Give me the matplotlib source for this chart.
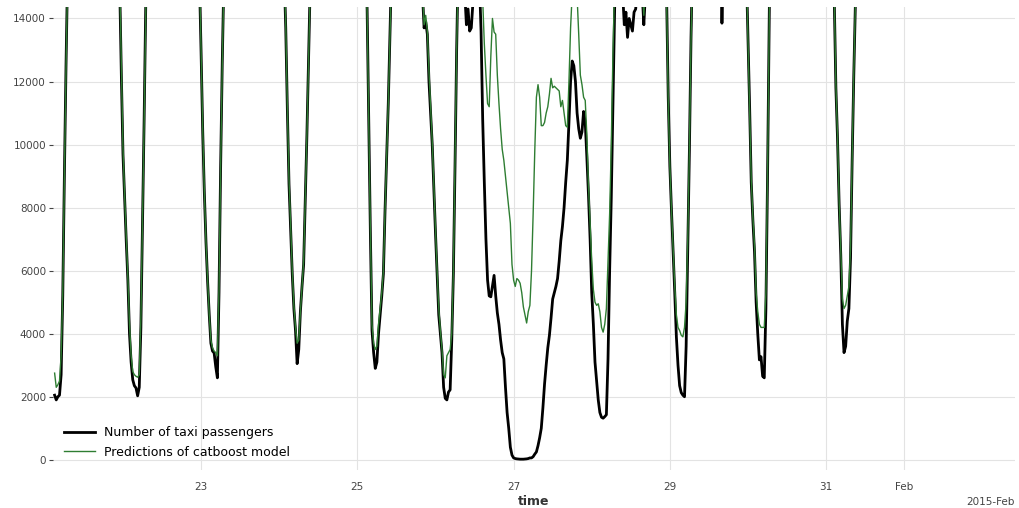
import pandas as pd
import matplotlib
matplotlib.use("Agg")
import matplotlib.pyplot as plt
import matplotlib.dates as mdates

# half-hourly values, series starts 2015-01-21 03:00
passengers_jan21 = [2050, 1900, 2000, 2050, 2700, 5200, 9000, 12500, 15500, 18000,
                    20500, 21800, 21500, 20600, 19800, 19600, 20100, 20700, 21300, 21600,
                    21200, 21000, 21400, 21700, 21100, 20200, 18800, 17600, 19400, 23100,
                    26200, 28400, 29300, 28600, 27100, 26000, 25200, 24300, 22100, 18600,
                    15000, 12200]
passengers_jan22 = [9700, 8300, 6950, 5700, 4000, 3100, 2540, 2350, 2280, 2030,
                    2300, 4200, 7400, 10800, 14500, 17200, 20200, 21600, 21700, 20800,
                    19900, 19700, 20300, 20900, 21400, 21700, 21300, 21200, 21600, 21900,
                    21300, 20400, 18900, 17800, 19600, 23400, 26600, 28900, 29800, 29100,
                    27800, 26700, 26000, 25300, 24200, 22500, 20100, 15200]
passengers_jan23 = [12900, 10400, 8450, 6900, 5650, 4600, 3700, 3450, 3390, 2950,
                    2600, 5300, 9300, 12600, 15300, 17800, 19900, 21200, 21300, 20400,
                    19600, 19500, 20000, 20700, 21200, 21500, 21200, 21100, 21600, 22000,
                    21600, 20800, 19200, 18000, 19800, 23600, 27000, 29500, 30600, 30200,
                    29000, 28100, 27800, 28300, 28600, 28400, 27600, 26900]
passengers_jan24 = [25800, 23100, 19800, 15500, 13700, 11100, 8750, 7300, 5900, 4800,
                    4100, 3050, 3500, 4700, 5500, 6200, 8300, 10300, 12700, 15000,
                    16800, 18400, 19800, 21000, 22000, 22800, 23400, 23900, 24200, 24100,
                    23800, 23300, 22200, 21400, 22600, 24300, 25900, 27100, 27900, 28100,
                    27700, 27000, 26900, 27300, 28100, 28600, 28500, 28000]
passengers_jan25 = [27200, 26300, 25100, 23400, 20900, 15800, 14300, 10700, 7200, 4100,
                    3400, 2900, 3100, 4000, 4600, 5200, 5900, 7900, 9600, 11300,
                    13500, 15500, 17200, 18400, 19300, 20000, 20500, 20800, 20900, 20700,
                    20300, 19800, 18600, 17600, 18000, 18600, 19000, 18900, 18200, 16500,
                    14800, 13700, 13900, 13500, 12000, 11000, 10000, 8600]
passengers_jan26 = [7200, 5900, 4600, 4000, 3400, 2300, 1950, 1900, 2150, 2220,
                    3800, 5900, 9300, 13000, 15800, 17000, 16500, 15500, 14800, 13800,
                    14300, 13600, 13700, 14500, 15000, 15500, 15800, 15200, 13600, 10800,
                    8800, 7000, 5700, 5200, 5170, 5500, 5850, 5200, 4660, 4300,
                    3800, 3400, 3200, 2300, 1500, 1000, 400, 150]
passengers_jan27 = [60, 40, 30, 25, 20, 20, 20, 25, 30, 40,
                    60, 60, 100, 180, 250, 450, 700, 1000, 1650, 2400,
                    3000, 3550, 3950, 4500, 5100, 5300, 5500, 5750, 6300, 6950,
                    7400, 8000, 8800, 9500, 10700, 12000, 12650, 12500, 12000, 11000,
                    10500, 10200, 10400, 11050, 10700, 9600, 8400, 7000]
passengers_jan28 = [5300, 4300, 3100, 2500, 1900, 1500, 1350, 1320, 1370, 1430,
                    3200, 6000, 8300, 11200, 14200, 16500, 17000, 16500, 15500, 14800,
                    13800, 14200, 13400, 14000, 13800, 13600, 14200, 14300, 15000, 15500,
                    15200, 14800, 13800, 14800, 16000, 19500, 22800, 25300, 26800, 26600,
                    25400, 24500, 23800, 21000, 18500, 15800, 14700, 11500]
passengers_jan29 = [9300, 7900, 6600, 5300, 3900, 3000, 2350, 2130, 2050, 2000,
                    3600, 6600, 9800, 13400, 16000, 18500, 20400, 21500, 21400, 20600,
                    19800, 19700, 20300, 20800, 21300, 21600, 21300, 21000, 21400, 21200,
                    19500, 16800, 13850, 16000, 19500, 23300, 26500, 28700, 29500, 29000,
                    27900, 26800, 26100, 25500, 24800, 22900, 19500, 15500]
passengers_jan30 = [13400, 11200, 8800, 7600, 6600, 5000, 4000, 3170, 3270, 2650,
                    2600, 4800, 8900, 14000, 17500, 19500, 20800, 21700, 21500, 20600,
                    19800, 19700, 20300, 20900, 21500, 21800, 21400, 21300, 21800, 22100,
                    21700, 20900, 19300, 18100, 19900, 23800, 27200, 29800, 31000, 30600,
                    29400, 28500, 28200, 28600, 29000, 28900, 28100, 27400]
passengers_jan31 = [26300, 24800, 22500, 19600, 16000, 14600, 11800, 10200, 8100, 6500,
                    4300, 3400, 3600, 4400, 4800, 6400, 9500, 12200, 14500, 17000]

catboost_jan21 = [2750, 2300, 2380, 2500, 3300, 5300, 9000, 12400, 15300, 17700,
                  20100, 21400, 21600, 20900, 20100, 19800, 20000, 20500, 21000, 21400,
                  21400, 21200, 21300, 21500, 21300, 20500, 19300, 18200, 19200, 22400,
                  25700, 27900, 29000, 28700, 27500, 26300, 25500, 24600, 22500, 19000,
                  15200, 12500]
catboost_jan22 = [9900, 8400, 7100, 5800, 4300, 3300, 2800, 2700, 2650, 2620,
                  2700, 4500, 7500, 10700, 14300, 17000, 19900, 21300, 21600, 21000,
                  20200, 19900, 20200, 20700, 21200, 21500, 21400, 21300, 21500, 21700,
                  21400, 20600, 19300, 18300, 19500, 22800, 26000, 28400, 29500, 29200,
                  28100, 27000, 26200, 25400, 24300, 22700, 20300, 15400]
catboost_jan23 = [13000, 10500, 8500, 6900, 5700, 4600, 3800, 3550, 3450, 3400,
                  3300, 5400, 9300, 12500, 15200, 17600, 19700, 21000, 21300, 20600,
                  19900, 19700, 20000, 20500, 21000, 21300, 21300, 21200, 21500, 21800,
                  21600, 21000, 19600, 18500, 19700, 23000, 26400, 28900, 30100, 30000,
                  29100, 28300, 27900, 28100, 28400, 28300, 27700, 26900]
catboost_jan24 = [25900, 23300, 20000, 15700, 13800, 11200, 8900, 7400, 6000, 4900,
                  4200, 3700, 3800, 4700, 5500, 6300, 8300, 10300, 12600, 14900,
                  16700, 18300, 19700, 20800, 21800, 22600, 23200, 23700, 24000, 24000,
                  23700, 23200, 22400, 21800, 22700, 24100, 25600, 26800, 27600, 27900,
                  27600, 27000, 26800, 27100, 27800, 28300, 28300, 27800]
catboost_jan25 = [27100, 26200, 25000, 23200, 20700, 15900, 14200, 10800, 7300, 4300,
                  3700, 3500, 3600, 4300, 4800, 5300, 6000, 7900, 9600, 11300,
                  13400, 15400, 17000, 18300, 19200, 19900, 20400, 20700, 20800, 20600,
                  20200, 19700, 18700, 17900, 18100, 18600, 19000, 19000, 18400, 17000,
                  14900, 13800, 14100, 13600, 12300, 11200, 10100, 8700]
catboost_jan26 = [7300, 6000, 4800, 4100, 3500, 2700, 2600, 3300, 3400, 3500,
                  4000, 6000, 9400, 13000, 15600, 17000, 17300, 16800, 16200, 15900,
                  16100, 16200, 16400, 16600, 16800, 16700, 16300, 15500, 15000, 14600,
                  13200, 12200, 11300, 11200, 12800, 14000, 13570, 13500, 12200, 11300,
                  10500, 9850, 9500, 9000, 8500, 8000, 7500, 6200]
catboost_jan27 = [5700, 5500, 5750, 5700, 5600, 5300, 4850, 4600, 4340, 4700,
                  4900, 6000, 7800, 9800, 11500, 11900, 11500, 10600, 10600, 10700,
                  11000, 11200, 11600, 12100, 11800, 11850, 11800, 11750, 11700, 11200,
                  11400, 11000, 10600, 10550, 12000, 13700, 14800, 16000, 16200, 14700,
                  13500, 12200, 11900, 11500, 11400, 10300, 8700, 7500]
catboost_jan28 = [6300, 5400, 5000, 4900, 4950, 4700, 4200, 4050, 4300, 4800,
                  6300, 7800, 10000, 12800, 15000, 17000, 17800, 17600, 17000, 16500,
                  16200, 16000, 15800, 15700, 15500, 15400, 15500, 15600, 15800, 15900,
                  15600, 15000, 14100, 15200, 17000, 20300, 23500, 25600, 26800, 26700,
                  25700, 24800, 24000, 21300, 18700, 15900, 14600, 11400]
catboost_jan29 = [9300, 7900, 6700, 5500, 4600, 4200, 4100, 3950, 3900, 4200,
                  5000, 7000, 9900, 13300, 15800, 18200, 20100, 21200, 21300, 20800,
                  20100, 19900, 20200, 20600, 21100, 21400, 21300, 21100, 21300, 21300,
                  20300, 18900, 17800, 18600, 20400, 23300, 26200, 28300, 29300, 29100,
                  28100, 27000, 26300, 25600, 24800, 23000, 19700, 15700]
catboost_jan30 = [13300, 11100, 8900, 7700, 6800, 5300, 4700, 4300, 4200, 4200,
                  4200, 5300, 9000, 13900, 17300, 19300, 20600, 21500, 21500, 20800,
                  20100, 19900, 20200, 20700, 21200, 21600, 21500, 21400, 21700, 21900,
                  21700, 21100, 19800, 18700, 19900, 23300, 26700, 29300, 30500, 30400,
                  29500, 28700, 28300, 28500, 28800, 28700, 28100, 27500]
catboost_jan31 = [26400, 25000, 22700, 19800, 16200, 14700, 11900, 10300, 8200, 6600,
                  5100, 4800, 4900, 5200, 5500, 6700, 9600, 12300, 14500, 16900]

passengers = (passengers_jan21 + passengers_jan22 + passengers_jan23 + passengers_jan24 +
              passengers_jan25 + passengers_jan26 + passengers_jan27 + passengers_jan28 +
              passengers_jan29 + passengers_jan30 + passengers_jan31)
catboost = (catboost_jan21 + catboost_jan22 + catboost_jan23 + catboost_jan24 +
            catboost_jan25 + catboost_jan26 + catboost_jan27 + catboost_jan28 +
            catboost_jan29 + catboost_jan30 + catboost_jan31)

time = pd.date_range("2015-01-21 03:00", periods=len(passengers), freq="30min")

fig = plt.figure(figsize=(10.19, 5.08), dpi=100)
ax = fig.add_axes([0.052, 0.075, 0.944, 0.911])

ax.plot(time, passengers, color="black", lw=2, label="Number of taxi passengers")
ax.plot(time, catboost, color="#2e7d32", lw=1, label="Predictions of catboost model")

ax.set_xlim(pd.Timestamp("2015-01-21 02:30"), pd.Timestamp("2015-02-02 10:00"))
ax.set_ylim(-320, 14360)
ax.set_yticks(range(0, 14001, 2000))

locator = mdates.DayLocator(bymonthday=range(1, 32, 2))
ax.xaxis.set_major_locator(locator)
ax.xaxis.set_major_formatter(mdates.ConciseDateFormatter(locator))

for s in ax.spines.values():
    s.set_visible(False)
ax.grid(True, color="#e3e3e3", lw=0.8)
ax.set_axisbelow(True)
ax.tick_params(axis="x", length=0, pad=9, labelsize=7.5, colors="#444444")
ax.tick_params(axis="y", length=3, width=0.8, pad=2, labelsize=7.5,
               colors="#444444")
ax.xaxis.get_offset_text().set_fontsize(7.5)
ax.xaxis.get_offset_text().set_color("#444444")

ax.set_xlabel("time", fontweight="bold", fontsize=9, color="#333333", labelpad=2)
ax.legend(loc="lower left", frameon=False, fontsize=9, handlelength=2.5,
          handletextpad=0.7, bbox_to_anchor=(0.0, 0.0))

fig.savefig("out.png", dpi=100)
